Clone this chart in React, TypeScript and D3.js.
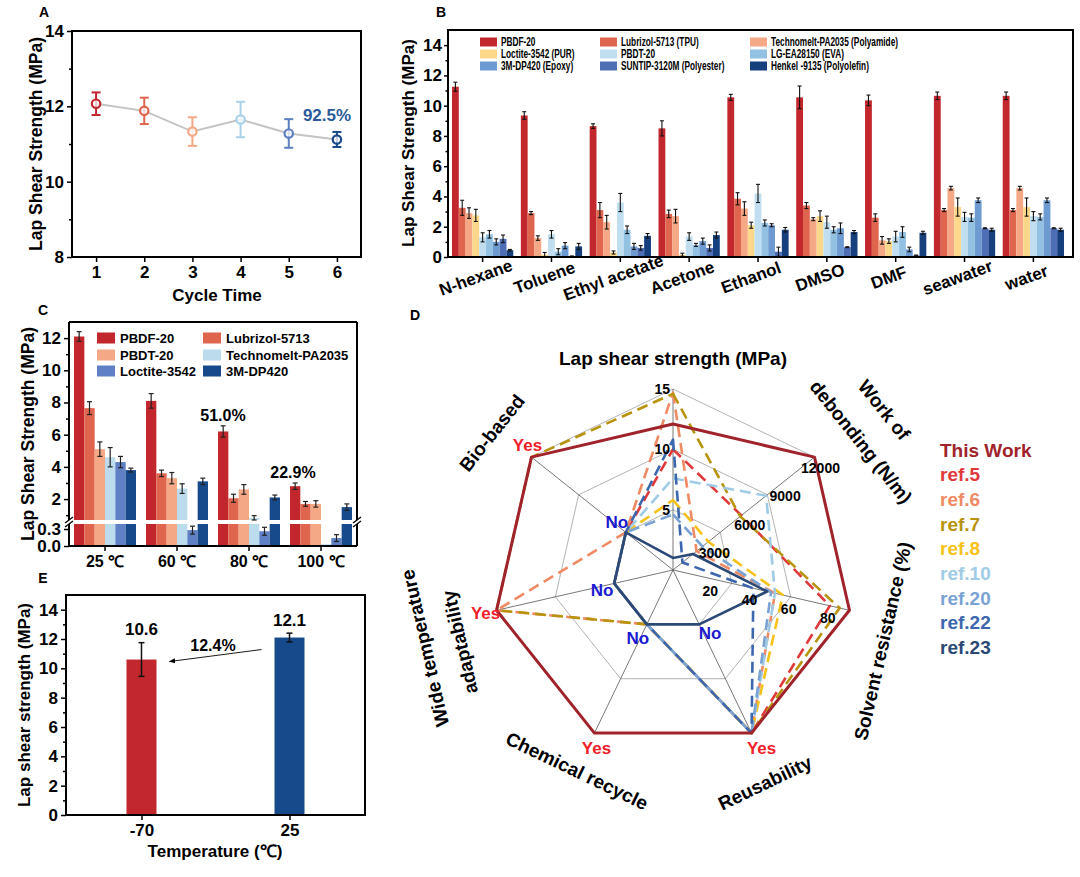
import * as d3 from 'd3';
import React, { useRef, useEffect } from 'react';

const FONT = "'Liberation Sans', Arial, Helvetica, sans-serif";

// ---------- A: repeated bonding cycles
const cycles = [1, 2, 3, 4, 5, 6];
const cycleStrength = [12.07, 11.88, 11.33, 11.65, 11.28, 11.12];
const cycleError = [0.3, 0.35, 0.38, 0.47, 0.38, 0.2];
const cycleColors = ['#c1272d', '#e0654f', '#f4a886', '#a9d2ea', '#5b7fc1', '#1b4a8a'];

// ---------- B: solvent soaking
const solvents = ['N-hexane', 'Toluene', 'Ethyl acetate', 'Acetone', 'Ethanol', 'DMSO', 'DMF', 'seawater', 'water'];
const adhesives = [
  'PBDF-20', 'Lubrizol-5713 (TPU)', 'Technomelt-PA2035 (Polyamide)',
  'Loctite-3542 (PUR)', 'PBDT-20', 'LG-EA28150 (EVA)',
  '3M-DP420 (Epoxy)', 'SUNTIP-3120M (Polyester)', 'Henkel -9135 (Polyolefin)',
];
const adhesiveColors = ['#c1272d', '#e0654f', '#f4a886', '#fdd88a', '#c0def0', '#92c1e2', '#6e9ad2', '#4e6eb6', '#163f7e'];
// one row per adhesive, one column per solvent
const solventStrength = [
  [11.25, 9.35, 8.65, 8.5, 10.55, 10.55, 10.35, 10.65, 10.65],
  [3.25, 2.9, 3.1, 2.85, 3.85, 3.4, 2.6, 3.1, 3.1],
  [2.9, 1.25, 2.3, 2.7, 3.2, 2.5, 1.1, 4.55, 4.55],
  [2.75, 0.15, 0.3, 0.15, 2.1, 2.7, 1.05, 3.3, 3.3],
  [1.3, 1.5, 3.6, 1.35, 4.2, 2.3, 1.35, 2.65, 2.7],
  [1.5, 0.35, 1.8, 0.8, 2.25, 1.8, 1.65, 2.6, 2.65],
  [1.0, 0.75, 0.7, 1.05, 2.1, 1.9, 0.5, 3.75, 3.75],
  [1.2, 0.05, 0.6, 0.6, 0.35, 0.65, 0.1, 1.9, 1.9],
  [0.45, 0.7, 1.4, 1.45, 1.8, 1.65, 1.6, 1.8, 1.8],
];
const solventError = [
  [0.3, 0.25, 0.15, 0.5, 0.2, 0.75, 0.35, 0.25, 0.25],
  [0.5, 0.1, 0.5, 0.25, 0.4, 0.2, 0.25, 0.1, 0.1],
  [0.35, 0.15, 0.45, 0.45, 0.45, 0.1, 0.25, 0.12, 0.12],
  [0.4, 0.15, 0.1, 0.1, 0.2, 0.35, 0.15, 0.6, 0.6],
  [0.3, 0.25, 0.6, 0.25, 0.6, 0.4, 0.35, 0.3, 0.3],
  [0.25, 0.2, 0.25, 0.1, 0.2, 0.2, 0.35, 0.25, 0.2],
  [0.2, 0.2, 0.2, 0.2, 0.1, 0.35, 0.15, 0.15, 0.15],
  [0.25, 0.02, 0.15, 0.2, 0.3, 0.03, 0.03, 0.03, 0.03],
  [0.05, 0.2, 0.15, 0.2, 0.15, 0.1, 0.1, 0.1, 0.1],
];

// ---------- C: high temperature
const heatTemps = ['25 ℃', '60 ℃', '80 ℃', '100 ℃'];
const heatAdhesives = ['PBDF-20', 'Lubrizol-5713', 'PBDT-20', 'Technomelt-PA2035', 'Loctite-3542', '3M-DP420'];
const heatColors = ['#c1272d', '#e0654f', '#f4a886', '#bcdcee', '#5f80c4', '#174a8a'];
const heatStrength = [
  [12.1, 8.1, 6.2, 2.8],
  [7.65, 3.6, 2.05, 1.7],
  [5.1, 3.3, 2.6, 1.7],
  [4.6, 2.65, 0.82, 0.03],
  [4.3, 0.28, 0.26, 0.14],
  [3.8, 3.1, 2.1, 1.5],
];
const heatError = [
  [0.3, 0.45, 0.35, 0.2],
  [0.4, 0.2, 0.25, 0.15],
  [0.45, 0.35, 0.3, 0.2],
  [0.6, 0.3, 0.15, 0],
  [0.35, 0.07, 0.07, 0.06],
  [0.12, 0.2, 0.15, 0.2],
];

// ---------- D: radar comparison
const radarAxes = ['Lap shear strength (MPa)', 'Work of debonding (N/m)', 'Solvent resistance (%)', 'Reusability', 'Chemical recycle', 'Wide temperature adaptability', 'Bio-based'];
const works = ['This Work', 'ref.5', 'ref.6', 'ref.7', 'ref.8', 'ref.10', 'ref.20', 'ref.22', 'ref.23'];
const workColors = ['#a0222a', '#e0393b', '#f08a64', '#b8940e', '#f6c21a', '#9fcbe6', '#7aa3d3', '#3c67ae', '#2b4876'];
const lapShear = [12.1, 10.0, 14.7, 14.6, 5.8, 7.6, 4.6, 10.8, 1.0];
const workDebond = [12000, 5800, 2000, 5700, 3000, 7900, 2500, 800, 1700];
const solventRes = [90, 80, 52, 85, 56, 52, 50, 41, 48];
const reusable = ['Yes', 'Yes', 'Yes', 'Yes', 'Yes', 'Yes', 'Yes', 'Yes', 'No'];
const recyclable = ['Yes', 'No', 'No', 'No', 'No', 'No', 'No', 'No', 'No'];
const wideTemp = ['Yes', 'No', 'Yes', 'Yes', 'No', 'No', 'No', 'No', 'No'];
const bioBased = ['Yes', 'No', 'No', 'Yes', 'No', 'No', 'No', 'No', 'No'];
const lapTicks = [5, 10, 15];
const debondTicks = [3000, 6000, 9000, 12000];
const solventTicks = [20, 40, 60, 80];

// ---------- E: low temperature
const lowTemps = ['-70', '25'];
const lowStrength = [10.6, 12.1];
const lowError = [1.15, 0.3];
const lowColors = ['#c1272d', '#174a8a'];

type G = d3.Selection<SVGGElement, unknown, null, undefined>;

function styleAxis(g: G, size = 17) {
  g.select('.domain').remove();
  g.selectAll('line').attr('stroke', '#000').attr('stroke-width', 1.5);
  g.selectAll('text')
    .attr('fill', '#000')
    .attr('font-size', size)
    .attr('font-family', FONT)
    .attr('font-weight', 'bold');
}

function errorBar(g: G, x: number, y1: number, y2: number, cap: number, color: string, w: number) {
  g.append('line').attr('x1', x).attr('x2', x).attr('y1', y1).attr('y2', y2).attr('stroke', color).attr('stroke-width', w);
  [y1, y2].forEach(y => {
    g.append('line').attr('x1', x - cap / 2).attr('x2', x + cap / 2).attr('y1', y).attr('y2', y).attr('stroke', color).attr('stroke-width', w);
  });
}

function label(g: G, x: number, y: number, text: string, size: number, opts: any = {}) {
  const t = g.append('text')
    .attr('x', x).attr('y', y)
    .attr('font-size', size)
    .attr('text-anchor', opts.anchor || 'middle')
    .attr('dominant-baseline', 'central')
    .attr('fill', opts.fill || '#000')
    .text(text);
  if (opts.rotate !== undefined) t.attr('transform', `rotate(${opts.rotate},${x},${y})`);
  return t;
}

function drawA(svg: G) {
  const g = svg.append('g');
  const x = d3.scaleLinear().domain([0.5, 6.5]).range([72, 361]);
  const y = d3.scaleLinear().domain([8, 14]).range([257, 31]);
  g.append('rect').attr('x', 72).attr('y', 31).attr('width', 289).attr('height', 226).attr('fill', 'none').attr('stroke', '#000').attr('stroke-width', 2);
  const ya = g.append('g').attr('transform', 'translate(72,0)')
    .call(d3.axisLeft(y).tickValues([8, 10, 12, 14]).tickSize(5).tickSizeOuter(0).tickFormat(d3.format('d')));
  styleAxis(ya);
  const ym = g.append('g').attr('transform', 'translate(72,0)').call(d3.axisLeft(y).tickValues([9, 11, 13]).tickSize(3).tickFormat(() => ''));
  styleAxis(ym);
  const xa = g.append('g').attr('transform', 'translate(0,257)').call(d3.axisBottom(x).tickValues(cycles).tickSize(5).tickPadding(4).tickFormat(d3.format('d')));
  styleAxis(xa);

  const line = d3.line<number>().x((_, i) => x(cycles[i])).y(d => y(d));
  g.append('path').attr('d', line(cycleStrength)).attr('fill', 'none').attr('stroke', '#c4c4c4').attr('stroke-width', 2);
  cycles.forEach((c, i) => {
    errorBar(g, x(c), y(cycleStrength[i] + cycleError[i]), y(cycleStrength[i] - cycleError[i]), 9, cycleColors[i], 2);
    g.append('circle').attr('cx', x(c)).attr('cy', y(cycleStrength[i])).attr('r', 4.2)
      .attr('fill', '#fff').attr('fill-opacity', 0.75).attr('stroke', cycleColors[i]).attr('stroke-width', 2.2);
  });
  label(g, 327, 115, '92.5%', 17, { fill: '#2a5a9a' });
  label(g, 217, 295, 'Cycle Time', 17);
  label(g, 36, 144, 'Lap Shear Strength (MPa)', 17.5, { rotate: -90 });
  label(g, 44, 12, 'A', 14);
}

function drawB(svg: G) {
  const g = svg.append('g');
  const left = 448, right = 1073, top = 30, bottom = 257;
  const x = d3.scaleBand<string>().domain(solvents).range([left, 1068]).paddingInner(0.11).paddingOuter(0.058);
  const inner = d3.scaleBand<number>().domain(adhesives.map((_, i) => i)).range([0, x.bandwidth()]);
  const y = d3.scaleLinear().domain([0, 15]).range([bottom, top]);

  solvents.forEach((s, j) => {
    adhesives.forEach((_, i) => {
      const bx = (x(s) as number) + (inner(i) as number);
      const v = solventStrength[i][j];
      g.append('rect').attr('x', bx).attr('y', y(v)).attr('width', inner.bandwidth()).attr('height', bottom - y(v)).attr('fill', adhesiveColors[i]);
    });
  });
  solvents.forEach((s, j) => {
    adhesives.forEach((_, i) => {
      const cx = (x(s) as number) + (inner(i) as number) + inner.bandwidth() / 2;
      const v = solventStrength[i][j], e = solventError[i][j];
      errorBar(g, cx, y(v + e), y(Math.max(0, v - e)), 4, '#111', 1.1);
    });
  });

  g.append('rect').attr('x', left).attr('y', top).attr('width', right - left).attr('height', bottom - top).attr('fill', 'none').attr('stroke', '#000').attr('stroke-width', 2);
  const ya = g.append('g').attr('transform', `translate(${left},0)`).call(d3.axisLeft(y).tickValues(d3.range(0, 15, 2)).tickSize(4).tickPadding(2).tickSizeOuter(0));
  styleAxis(ya);
  const ym = g.append('g').attr('transform', `translate(${left},0)`).call(d3.axisLeft(y).tickValues(d3.range(1, 15, 2)).tickSize(2.5).tickFormat(() => ''));
  styleAxis(ym);
  const xa = g.append('g').attr('transform', `translate(0,${bottom})`).call(d3.axisBottom(x).tickSize(5).tickFormat(() => ''));
  styleAxis(xa);
  solvents.forEach(s => {
    const cx = (x(s) as number) + x.bandwidth() / 2;
    g.append('text').attr('transform', `translate(${cx - 5},${283}) rotate(-20)`).attr('text-anchor', 'middle').attr('font-size', 17).text(s);
  });

  // legend, three columns
  const colX = [480, 600, 750];
  const rowY = [42, 54, 66];
  adhesives.forEach((a, i) => {
    const cx = colX[i % 3], cy = rowY[Math.floor(i / 3)];
    g.append('rect').attr('x', cx).attr('y', cy - 4.5).attr('width', 17).attr('height', 9).attr('fill', adhesiveColors[i]);
    g.append('text').attr('transform', `translate(${cx + 21},${cy}) scale(0.69,1)`).attr('dominant-baseline', 'central').attr('font-size', 12).text(a);
  });

  label(g, 408, 143, 'Lap Shear Strength (MPa)', 17, { rotate: -90 });
  label(g, 441, 12, 'B', 14);
}

function drawC(svg: G) {
  const g = svg.append('g');
  const left = 69, right = 357, top = 322, bottom = 546;
  const breakHi = 520, breakLo = 524;
  const x = d3.scaleBand<string>().domain(heatTemps).range([left, right]).paddingInner(0.139).paddingOuter(0.0695);
  const inner = d3.scaleBand<number>().domain(heatAdhesives.map((_, i) => i)).range([0, x.bandwidth()]);
  const yUp = d3.scaleLinear().domain([0.7, 13]).range([breakHi, top]);
  const yLo = d3.scaleLinear().domain([0, 0.3]).range([bottom, 529]);
  const loMax = yLo.invert(breakLo);
  const yPos = (v: number) => (v <= loMax ? yLo(v) : v >= 0.7 ? yUp(v) : breakHi);

  heatTemps.forEach((t, j) => {
    heatAdhesives.forEach((_, i) => {
      const bx = (x(t) as number) + (inner(i) as number);
      const v = heatStrength[i][j];
      const w = inner.bandwidth();
      const lowTop = yLo(Math.min(v, loMax));
      g.append('rect').attr('x', bx).attr('y', lowTop).attr('width', w).attr('height', bottom - lowTop).attr('fill', heatColors[i]);
      if (v > 0.7) {
        g.append('rect').attr('x', bx).attr('y', yUp(v)).attr('width', w).attr('height', breakHi - yUp(v)).attr('fill', heatColors[i]);
      }
    });
  });
  heatTemps.forEach((t, j) => {
    heatAdhesives.forEach((_, i) => {
      const e = heatError[i][j];
      if (e <= 0) return;
      const cx = (x(t) as number) + (inner(i) as number) + inner.bandwidth() / 2;
      const v = heatStrength[i][j];
      errorBar(g, cx, yPos(v + e), yPos(Math.max(0, v - e)), 5, '#222', 1.2);
    });
  });

  // frame with axis break
  const frame = g.append('g').attr('stroke', '#000').attr('stroke-width', 2).attr('fill', 'none');
  frame.append('line').attr('x1', left).attr('x2', right).attr('y1', top).attr('y2', top);
  frame.append('line').attr('x1', left).attr('x2', right).attr('y1', bottom).attr('y2', bottom);
  [left, right].forEach(xx => {
    frame.append('line').attr('x1', xx).attr('x2', xx).attr('y1', top).attr('y2', breakHi);
    frame.append('line').attr('x1', xx).attr('x2', xx).attr('y1', breakLo).attr('y2', bottom);
    [breakHi, breakLo].forEach(yy => {
      frame.append('line').attr('x1', xx - 4).attr('x2', xx + 4).attr('y1', yy + 3).attr('y2', yy - 3).attr('stroke-width', 1.3);
    });
  });

  const ya = g.append('g').attr('transform', `translate(${left},0)`).call(d3.axisLeft(yUp).tickValues(d3.range(2, 13, 2)).tickSize(5).tickPadding(3).tickSizeOuter(0).tickFormat(d3.format('d')));
  styleAxis(ya);
  const ym = g.append('g').attr('transform', `translate(${left},0)`).call(d3.axisLeft(yUp).tickValues([1, 3, 5, 7, 9, 11]).tickSize(3).tickFormat(() => ''));
  styleAxis(ym);
  const yl = g.append('g').attr('transform', `translate(${left},0)`).call(d3.axisLeft(yLo).tickValues([0, 0.3]).tickSize(5).tickPadding(3).tickFormat(d3.format('.1f')));
  styleAxis(yl);
  const xa = g.append('g').attr('transform', `translate(0,${bottom})`).call(d3.axisBottom(x).tickSize(5).tickPadding(5));
  styleAxis(xa, 16);

  const colX = [97, 203];
  const rowY = [338, 355, 371];
  heatAdhesives.forEach((a, i) => {
    const sx = colX[i % 2], sy = rowY[Math.floor(i / 2)];
    g.append('rect').attr('x', sx).attr('y', sy - 5.5).attr('width', 18).attr('height', 11).attr('fill', heatColors[i]);
    label(g, sx + 23, sy, a, 13, { anchor: 'start' });
  });

  label(g, 223, 415, '51.0%', 16);
  label(g, 293, 472, '22.9%', 16);
  label(g, 28, 434, 'Lap Shear Strength (MPa)', 17.5, { rotate: -90 });
  label(g, 43, 310, 'C', 14);
}

function drawD(svg: G) {
  const cx = 673, cy = 570, R = 181;
  const g = svg.append('g').attr('transform', `translate(${cx},${cy})`);
  const angles = radarAxes.map((_, i) => (i * 2 * Math.PI) / radarAxes.length);
  const rLap = d3.scaleLinear().domain([0, 15]).range([0, R]);
  const rWork = d3.scaleLinear().domain([0, 12000]).range([0, R]);
  const rSolv = d3.scaleLinear().domain([0, 90]).range([0, R]);
  const rYes = d3.scaleOrdinal<string, number>().domain(['No', 'Yes']).range([R / 3, R]);
  const pt = (a: number, r: number) => [r * Math.sin(a), -r * Math.cos(a)];

  const ring = d3.lineRadial<number>().angle(d => d).curve(d3.curveLinearClosed);
  [1 / 3, 2 / 3, 1].forEach(f => {
    g.append('path').attr('d', ring.radius(R * f)(angles)).attr('fill', 'none').attr('stroke', '#aaa').attr('stroke-width', 0.9);
  });
  angles.forEach(a => {
    const [px, py] = pt(a, R);
    g.append('line').attr('x1', 0).attr('y1', 0).attr('x2', px).attr('y2', py).attr('stroke', '#555').attr('stroke-width', 0.8);
  });

  const radii = works.map((_, s) => [
    rLap(lapShear[s]), rWork(workDebond[s]), rSolv(solventRes[s]),
    rYes(reusable[s]), rYes(recyclable[s]), rYes(wideTemp[s]), rYes(bioBased[s]),
  ]);
  const poly = d3.lineRadial<number>().angle((_, i) => angles[i]).radius(d => d).curve(d3.curveLinearClosed);
  const order = [1, 2, 3, 4, 5, 6, 7, 8, 0];
  order.forEach(s => {
    const dashed = s !== 0 && s !== 8;
    g.append('path').attr('d', poly(radii[s]))
      .attr('fill', 'none')
      .attr('stroke', workColors[s])
      .attr('stroke-width', s === 0 ? 3 : 2.6)
      .attr('stroke-linejoin', 'round')
      .attr('stroke-dasharray', dashed ? '11,6' : null);
  });

  // scale labels on the numeric axes
  lapTicks.forEach(v => {
    const [px, py] = pt(angles[0], rLap(v));
    label(g, px - 3, py, String(v), 14, { anchor: 'end' });
  });
  debondTicks.forEach(v => {
    const [px, py] = pt(angles[1], rWork(v));
    label(g, px + 6, py + 11, String(v), 14);
  });
  solventTicks.forEach(v => {
    const [px, py] = pt(angles[2], rSolv(v));
    label(g, px - 2, py + 12, String(v), 14);
  });

  // Yes / No markers on the categorical axes
  const yesOffset = [[0, 0], [0, 0], [0, 0], [10, 15], [2, 15], [-11, 3], [-4, -12]];
  const noOffset = [[0, 0], [0, 0], [0, 0], [11, 9], [-9, 14], [-12, 7], [-9, -10]];
  [3, 4, 5, 6].forEach(i => {
    const [yx, yy] = pt(angles[i], rYes('Yes'));
    label(g, yx + yesOffset[i][0], yy + yesOffset[i][1], 'Yes', 17, { fill: '#f0202a' });
    const [nx, ny] = pt(angles[i], rYes('No'));
    label(g, nx + noOffset[i][0], ny + noOffset[i][1], 'No', 17, { fill: '#1a1ad0' });
  });

  // axis titles
  const t = svg.append('g').attr('font-size', 19);
  label(t, 673, 358, radarAxes[0], 19);
  label(t, 884, 410, 'Work of', 19, { rotate: 51.43 });
  label(t, 861, 442, 'debonding (N/m)', 19, { rotate: 51.43 });
  label(t, 883, 641, radarAxes[2], 19, { rotate: -77.14 });
  label(t, 765, 783, radarAxes[3], 19, { rotate: -25.71 });
  label(t, 577, 771, radarAxes[4], 19, { rotate: 25.71 });
  label(t, 425, 648, 'Wide temperature', 19, { rotate: -102.86 });
  label(t, 460, 642, 'adaptability', 19, { rotate: -102.86 });
  label(t, 492, 433, radarAxes[6], 19, { rotate: -51.43 });

  works.forEach((w, i) => {
    label(svg, 940, 450 + i * 24.7, w, 19, { anchor: 'start', fill: workColors[i] });
  });
  label(svg, 415, 315, 'D', 14);
}

function drawE(svg: G) {
  const g = svg.append('g');
  const left = 66, right = 365, top = 595, bottom = 815;
  const x = d3.scalePoint<string>().domain(lowTemps).range([left, right]).padding(0.51);
  const y = d3.scaleLinear().domain([0, 15]).range([bottom, top]);
  const bw = 30;
  lowTemps.forEach((t, i) => {
    const cx = x(t) as number;
    g.append('rect').attr('x', cx - bw / 2).attr('y', y(lowStrength[i])).attr('width', bw).attr('height', bottom - y(lowStrength[i])).attr('fill', lowColors[i]);
    errorBar(g, cx, y(lowStrength[i] + lowError[i]), y(lowStrength[i] - lowError[i]), 6, '#111', 1.5);
    label(g, cx, y(lowStrength[i] + lowError[i]) - 13, lowStrength[i].toFixed(1), 17);
  });
  g.append('rect').attr('x', left).attr('y', top).attr('width', right - left).attr('height', bottom - top).attr('fill', 'none').attr('stroke', '#000').attr('stroke-width', 2);
  const ya = g.append('g').attr('transform', `translate(${left},0)`).call(d3.axisLeft(y).tickValues(d3.range(0, 15, 2)).tickSize(5).tickPadding(3).tickSizeOuter(0).tickFormat(d3.format('d')));
  styleAxis(ya);
  const ym = g.append('g').attr('transform', `translate(${left},0)`).call(d3.axisLeft(y).tickValues(d3.range(1, 15, 2)).tickSize(3).tickFormat(() => ''));
  styleAxis(ym);
  const xa = g.append('g').attr('transform', `translate(0,${bottom})`).call(d3.axisBottom(x).tickSize(5).tickPadding(4));
  styleAxis(xa);

  // change arrow between the two bars
  const defs = svg.append('defs');
  defs.append('marker').attr('id', 'arrowE').attr('viewBox', '0 0 10 10').attr('refX', 9).attr('refY', 5)
    .attr('markerWidth', 7).attr('markerHeight', 7).attr('orient', 'auto')
    .append('path').attr('d', 'M0,1 L10,5 L0,9 Z').attr('fill', '#000');
  const x0 = x(lowTemps[1]) as number, x1 = x(lowTemps[0]) as number;
  g.append('line').attr('x1', x0 - 28).attr('y1', y(lowStrength[1]) + 12).attr('x2', x1 + 28).attr('y2', y(lowStrength[0]) + 2)
    .attr('stroke', '#000').attr('stroke-width', 0.9).attr('marker-end', 'url(#arrowE)');
  label(g, 213, 645, '12.4%', 16);

  label(g, 215, 851, 'Temperature (℃)', 17);
  label(g, 24, 705, 'Lap shear strength (MPa)', 17, { rotate: -90 });
  label(g, 43, 578, 'E', 14);
}

const App: React.FC = () => {
  const ref = useRef<SVGSVGElement>(null);

  useEffect(() => {
    if (!ref.current) return;
    const root = d3.select(ref.current);
    root.selectAll('*').remove();
    const svg = root.append('g').attr('font-family', FONT).attr('font-weight', 'bold') as unknown as G;
    drawA(svg);
    drawB(svg);
    drawC(svg);
    drawD(svg);
    drawE(svg);
  }, []);

  return (
    <svg ref={ref} width={1080} height={877} style={{ position: 'absolute', left: 0, top: 0, background: '#fff' }} />
  );
};

export default App;
